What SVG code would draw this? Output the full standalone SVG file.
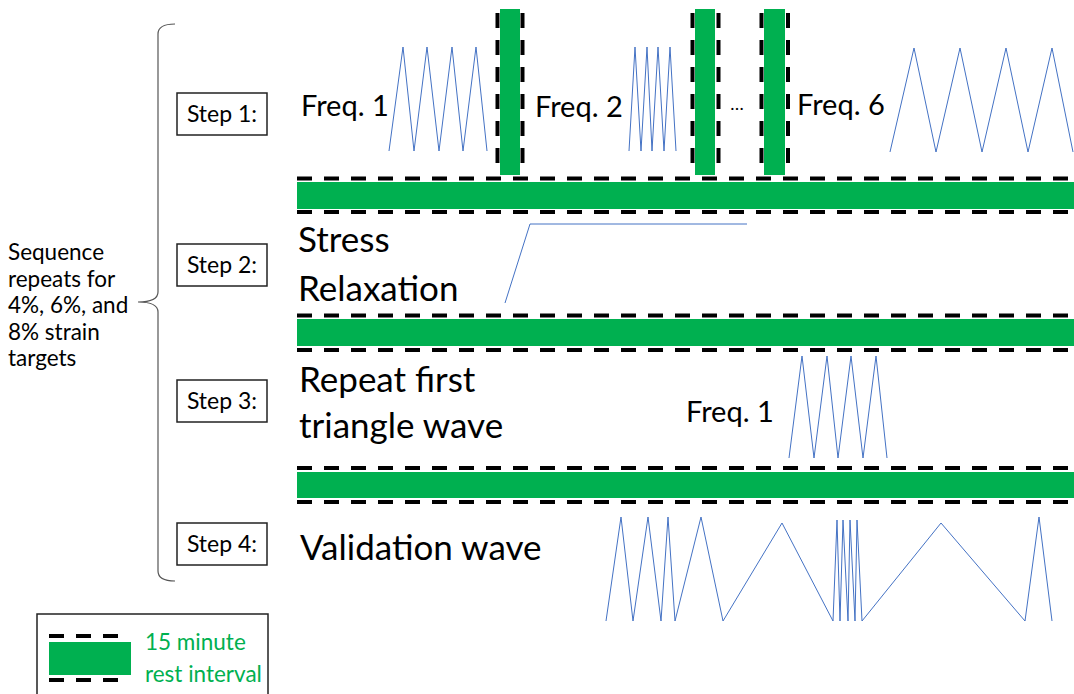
<svg xmlns="http://www.w3.org/2000/svg" width="1074" height="694" viewBox="0 0 1074 694">
  <style>
    .t { font-family: Lato, "Liberation Sans", sans-serif; fill: #000; }
    .side { font-size: 22.5px; }
    .step { font-size: 23px; }
    .freq { font-size: 29px; }
    .big { font-size: 35px; }
    .legend { font-size: 22.5px; fill: #00B050; }
    .box { fill: #fff; stroke: #222; stroke-width: 1.5; }
    .rest { fill: #00B050; }
    .dash { fill: none; stroke: #000; stroke-width: 4; stroke-dasharray: 15 12; }
    .wave { fill: none; stroke: #4472C4; stroke-width: 1; stroke-linejoin: miter; }
    .brace { fill: none; stroke: #555; stroke-width: 1.2; }
  </style>

  <!-- Bracket and repeat note -->
  <g id="repeat-note">
    <path class="brace" d="M175,24 C165,24 158,26 158,34 L158,292 C158,299 150,302 138,302 C150,302 158,305 158,312 L158,571 C158,579 165,581 175,581"/>
    <text class="t side" x="8">
      <tspan x="8" y="260">Sequence</tspan>
      <tspan x="8" y="287">repeats for</tspan>
      <tspan x="8" y="313">4%, 6%, and</tspan>
      <tspan x="8" y="340">8% strain</tspan>
      <tspan x="8" y="366">targets</tspan>
    </text>
  </g>

  <!-- Step labels -->
  <g id="step1">
    <rect class="box" x="177" y="93" width="90" height="42"/>
    <text class="t step" x="222" y="122" text-anchor="middle">Step 1:</text>
  </g>
  <g id="step2">
    <rect class="box" x="177" y="244" width="90" height="42"/>
    <text class="t step" x="222" y="273" text-anchor="middle">Step 2:</text>
  </g>
  <g id="step3">
    <rect class="box" x="177" y="380" width="90" height="42"/>
    <text class="t step" x="222" y="409" text-anchor="middle">Step 3:</text>
  </g>
  <g id="step4">
    <rect class="box" x="177" y="523" width="90" height="42"/>
    <text class="t step" x="222" y="552" text-anchor="middle">Step 4:</text>
  </g>

  <!-- Rest intervals (horizontal) -->
  <g id="rest-1">
    <rect class="rest" x="297" y="182" width="777" height="27"/>
    <line class="dash" x1="297" y1="178.5" x2="1074" y2="178.5"/>
    <line class="dash" x1="297" y1="212" x2="1074" y2="212"/>
  </g>
  <g id="rest-2">
    <rect class="rest" x="297" y="319" width="777" height="27"/>
    <line class="dash" x1="297" y1="315.5" x2="1074" y2="315.5"/>
    <line class="dash" x1="297" y1="350" x2="1074" y2="350"/>
  </g>
  <g id="rest-3">
    <rect class="rest" x="297" y="472" width="777" height="26"/>
    <line class="dash" x1="297" y1="468" x2="1074" y2="468"/>
    <line class="dash" x1="297" y1="502" x2="1074" y2="502"/>
  </g>

  <!-- Rest intervals (vertical, between frequencies) -->
  <g id="rest-a">
    <rect class="rest" x="500" y="9" width="20" height="166"/>
    <line class="dash" x1="497.5" y1="13" x2="497.5" y2="175"/>
    <line class="dash" x1="522.5" y1="13" x2="522.5" y2="175"/>
  </g>
  <g id="rest-b">
    <rect class="rest" x="695" y="9" width="20" height="166"/>
    <line class="dash" x1="692.5" y1="13" x2="692.5" y2="175"/>
    <line class="dash" x1="718.5" y1="13" x2="718.5" y2="175"/>
  </g>
  <g id="rest-c">
    <rect class="rest" x="764" y="9" width="21" height="166"/>
    <line class="dash" x1="761.5" y1="13" x2="761.5" y2="175"/>
    <line class="dash" x1="788" y1="13" x2="788" y2="175"/>
  </g>

  <!-- Step 1: frequency sweep -->
  <g id="freq1">
    <text class="t freq" x="301" y="116">Freq. 1</text>
    <polyline class="wave" points="389,151 403,47 414,151 427,47 439,151 452,47 463,151 476,47 487,151"/>
  </g>
  <g id="freq2">
    <text class="t freq" x="535" y="117">Freq. 2</text>
    <polyline class="wave" points="629,151 635,47 641,151 647,47 652,151 658,47 664,151 670,47 676,151"/>
  </g>
  <g id="ellipsis">
    <text class="t" style="font-size:18px" x="737" y="110" text-anchor="middle">…</text>
  </g>
  <g id="freq6">
    <text class="t freq" x="797" y="115">Freq. 6</text>
    <polyline class="wave" points="890,152 914,48 936,152 960,48 982,152 1006,48 1028,152 1052,48 1073,152"/>
  </g>

  <!-- Step 2: stress relaxation -->
  <g id="stress-relaxation">
    <text class="t big" x="298" y="252">Stress</text>
    <text class="t big" x="298" y="301">Relaxation</text>
    <polyline class="wave" points="505,303 530,224 747,224"/>
  </g>

  <!-- Step 3: repeat first triangle wave -->
  <g id="repeat-first">
    <text class="t big" x="299" y="392">Repeat first</text>
    <text class="t big" x="299" y="438">triangle wave</text>
    <text class="t freq" x="686" y="422">Freq. 1</text>
    <polyline class="wave" points="789,458 802,356 814,458 827,356 838,458 851,356 863,458 876,356 887,458"/>
  </g>

  <!-- Step 4: validation wave -->
  <g id="validation">
    <text class="t big" x="300" y="560">Validation wave</text>
    <polyline class="wave" points="606,621 621,517 633,621 648,517 661,621 668,517 675,621 701,517 723,621 782,523 833,621 837,520 840,621 843,520 848,621 850,520 855,621 857,520 862,621 941,523 1025,621 1039,517 1052,621"/>
  </g>

  <!-- Legend -->
  <g id="legend">
    <rect class="box" x="37" y="614" width="231" height="100"/>
    <rect class="rest" x="49" y="642" width="82" height="33"/>
    <line class="dash" x1="49" y1="636" x2="122" y2="636"/>
    <line class="dash" x1="49" y1="680" x2="122" y2="680"/>
    <text class="t legend" x="145" y="650">15 minute</text>
    <text class="t legend" x="145" y="682">rest interval</text>
  </g>
</svg>
